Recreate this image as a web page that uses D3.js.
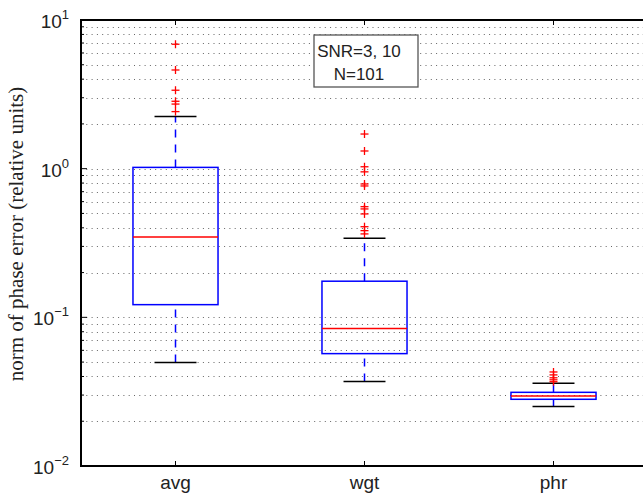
<!DOCTYPE html>
<html lang="en">
<head>
<meta charset="utf-8">
<title>Phase error boxplot</title>
<script src="https://cdn.jsdelivr.net/npm/d3@7"></script>
<style>
  body { margin: 0; background: #fff; }
  svg { display: block; }
  .lbl { font-family: "Liberation Sans", Arial, sans-serif; fill: #222; }
</style>
</head>
<body>
<script>

// categories and box statistics
var categories = ["avg", "wgt", "phr"];
var lowerWhisker = [0.0496, 0.0370, 0.0251];
var q1 = [0.1217, 0.0570, 0.0281];
var medians = [0.347, 0.0840, 0.0296];
var q3 = [1.02, 0.175, 0.0313];
var upperWhisker = [2.24, 0.340, 0.0360];

// outliers for each group
var outliersAvg = [6.87, 4.61, 3.37, 2.84, 2.72, 2.42];
var outliersWgt = [1.71, 1.315, 1.03, 0.952, 0.789, 0.765, 0.555, 0.536, 0.496, 0.407, 0.383, 0.364];
var outliersPhr = [0.0429, 0.0410, 0.0392, 0.0380, 0.0369];

var yTickValues = [0.01, 0.1, 1, 10];
var yTickExp = ["\u22122", "\u22121", "0", "1"];
var annotation = ["SNR=3, 10", "N=101"];

var w = 643, h = 496;
var padL = 81, padT = 20, padR = 648, padB = 466;

var svg = d3.select("body").append("svg")
    .attr("width", w)
    .attr("height", h);

var xScale = d3.scaleLinear().domain([0.5, 3.5]).range([padL, padR]);
var yScale = d3.scaleLog().domain([0.01, 10]).range([padB, padT]);

// grid lines at every decade and minor step
var gridVals = [];
yTickValues.forEach(function(d, i) {
  if (i < yTickValues.length - 1) {
    for (var k = 1; k < 10; k++) gridVals.push(d * k);
  }
});
gridVals = gridVals.filter(function(v) { return v > 0.01 * 1.001; });
gridVals.push(10);

svg.append("g").selectAll("line")
  .data(gridVals.filter(function(v) { return v < 9.99; }))
  .enter().append("line")
  .attr("x1", padL).attr("x2", padR)
  .attr("y1", function(d) { return Math.round(yScale(d)) + 0.5; })
  .attr("y2", function(d) { return Math.round(yScale(d)) + 0.5; })
  .attr("stroke", "#666")
  .attr("stroke-width", 1)
  .attr("stroke-dasharray", "1,4.3");

// y ticks (inward)
function isMajor(d) {
  return Math.abs(Math.log10(d) - Math.round(Math.log10(d))) < 1e-6;
}
svg.append("g").selectAll("line")
  .data(gridVals)
  .enter().append("line")
  .attr("x1", padL)
  .attr("x2", function(d) { return isMajor(d) ? padL + 6 : padL + 3; })
  .attr("y1", function(d) { return yScale(d); })
  .attr("y2", function(d) { return yScale(d); })
  .attr("stroke", "#000")
  .attr("stroke-width", 1);

// y tick labels 10^k
var yl = svg.append("g").selectAll("text")
  .data(yTickValues)
  .enter().append("text")
  .attr("class", "lbl")
  .attr("x", 69)
  .attr("y", function(d) { return yScale(d) + 8; })
  .attr("text-anchor", "end")
  .style("font-size", "19px");
yl.append("tspan").text("10");
yl.append("tspan")
  .attr("dy", -9)
  .style("font-size", "13px")
  .text(function(d, i) { return yTickExp[i]; });

// y axis label
svg.append("text")
  .attr("transform", "translate(23,234) rotate(-90)")
  .attr("text-anchor", "middle")
  .style("font-family", "'Liberation Serif', 'Times New Roman', serif")
  .style("font-size", "21px")
  .attr("fill", "#222")
  .text("norm of phase error (relative units)");

// category labels and ticks
svg.append("g").selectAll("text")
  .data(categories)
  .enter().append("text")
  .attr("class", "lbl")
  .attr("x", function(d, i) { return xScale(i + 1); })
  .attr("y", 489)
  .attr("text-anchor", "middle")
  .style("font-size", "19px")
  .text(function(d) { return d; });

categories.forEach(function(c, i) {
  var x = xScale(i + 1);
  svg.append("line").attr("x1", x).attr("x2", x).attr("y1", padB).attr("y2", padB - 5)
    .attr("stroke", "#000").attr("stroke-width", 1);
  svg.append("line").attr("x1", x).attr("x2", x).attr("y1", padT).attr("y2", padT + 5)
    .attr("stroke", "#000").attr("stroke-width", 1);
});

// boxes
var boxHalf = 0.225, capHalf = 0.111;
var boxes = svg.append("g");
categories.forEach(function(c, i) {
  var cx = xScale(i + 1);
  var bx0 = xScale(i + 1 - boxHalf), bx1 = xScale(i + 1 + boxHalf);
  var cap0 = xScale(i + 1 - capHalf), cap1 = xScale(i + 1 + capHalf);

  // whiskers, drawn from low value upward
  boxes.append("line")
    .attr("x1", cx).attr("x2", cx)
    .attr("y1", yScale(q3[i])).attr("y2", yScale(upperWhisker[i]))
    .attr("stroke", "#0000ff").attr("stroke-width", 1.5)
    .attr("stroke-dasharray", "8,7");
  boxes.append("line")
    .attr("x1", cx).attr("x2", cx)
    .attr("y1", yScale(lowerWhisker[i])).attr("y2", yScale(q1[i]))
    .attr("stroke", "#0000ff").attr("stroke-width", 1.5)
    .attr("stroke-dasharray", "8,7");

  // caps
  [upperWhisker[i], lowerWhisker[i]].forEach(function(v) {
    boxes.append("line")
      .attr("x1", cap0).attr("x2", cap1)
      .attr("y1", yScale(v)).attr("y2", yScale(v))
      .attr("stroke", "#000").attr("stroke-width", 1.5);
  });

  boxes.append("rect")
    .attr("x", bx0).attr("y", yScale(q3[i]))
    .attr("width", bx1 - bx0)
    .attr("height", yScale(q1[i]) - yScale(q3[i]))
    .attr("fill", "none")
    .attr("stroke", "#0000ff").attr("stroke-width", 1.5);

  boxes.append("line")
    .attr("x1", bx0).attr("x2", bx1)
    .attr("y1", yScale(medians[i])).attr("y2", yScale(medians[i]))
    .attr("stroke", "#ff0000").attr("stroke-width", 1.5);
});

// outliers as red plus signs
var outliers = [outliersAvg, outliersWgt, outliersPhr];
outliers.forEach(function(list, i) {
  var cx = xScale(i + 1);
  var g = svg.append("g").selectAll("g")
    .data(list)
    .enter().append("g")
    .attr("transform", function(d) { return "translate(" + cx + "," + yScale(d) + ")"; });
  g.append("line").attr("x1", -4).attr("x2", 4).attr("y1", 0).attr("y2", 0)
    .attr("stroke", "#ff0000").attr("stroke-width", 1.3);
  g.append("line").attr("x1", 0).attr("x2", 0).attr("y1", -4).attr("y2", 4)
    .attr("stroke", "#ff0000").attr("stroke-width", 1.3);
});

// axes frame
svg.append("path")
  .attr("d", "M" + padR + "," + padT + "H" + padL + "V" + padB + "H" + padR)
  .attr("fill", "none")
  .attr("stroke", "#000")
  .attr("stroke-width", 2);

// annotation box
svg.append("rect")
  .attr("x", 314).attr("y", 35)
  .attr("width", 104).attr("height", 52)
  .attr("fill", "#fff")
  .attr("stroke", "#555")
  .attr("stroke-width", 1.3);
svg.append("g").selectAll("text")
  .data(annotation)
  .enter().append("text")
  .attr("class", "lbl")
  .attr("x", 359)
  .attr("y", function(d, i) { return 57 + i * 23; })
  .attr("text-anchor", "middle")
  .style("font-size", "17px")
  .text(function(d) { return d; });

</script>
</body>
</html>
